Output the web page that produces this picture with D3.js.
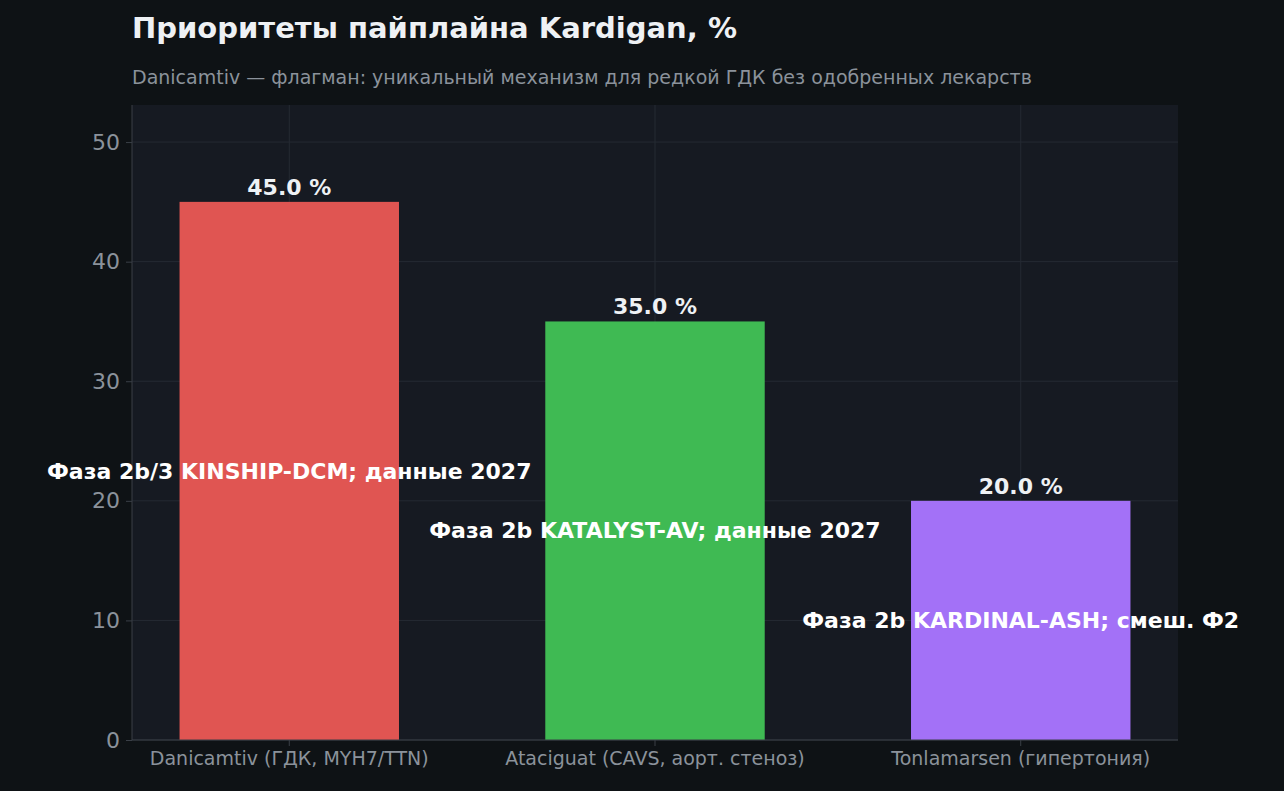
<!DOCTYPE html>
<html><head><meta charset="utf-8">
<script src="https://cdn.jsdelivr.net/npm/d3@7"></script>
<style>body{margin:0;background:#0e1215;}svg{display:block;font-family:"DejaVu Sans",sans-serif;}</style>
</head><body>
<script>
const categories = ["Danicamtiv (ГДК, MYH7/TTN)", "Ataciguat (CAVS, аорт. стеноз)", "Tonlamarsen (гипертония)"];
const values = [45.0, 35.0, 20.0];
const notes = ["Фаза 2b/3 KINSHIP-DCM; данные 2027", "Фаза 2b KATALYST-AV; данные 2027", "Фаза 2b KARDINAL-ASH; смеш. Ф2"];
const colors = ["#e05552", "#3fba53", "#a371f7"];
const yTicks = [0, 10, 20, 30, 40, 50];

const W = 1284, H = 791;
const m = {l: 132, r: 1178, t: 105, b: 740};
const svg = d3.select("body").append("svg").attr("width", W).attr("height", H);
svg.append("rect").attr("width", W).attr("height", H).attr("fill", "#0e1215");
svg.append("rect").attr("x", m.l).attr("y", m.t).attr("width", m.r - m.l).attr("height", m.b - m.t).attr("fill", "#161a22");

const x = d3.scaleBand().domain(categories).range([m.l, m.r]).paddingInner(0.4).paddingOuter(0.13);
const y = d3.scaleLinear().domain([0, 53.1]).range([m.b, m.t]);

// grid
svg.append("g").selectAll("line").data(yTicks).join("line")
  .attr("x1", m.l).attr("x2", m.r).attr("y1", d => y(d)).attr("y2", d => y(d))
  .attr("stroke", "#252a33").attr("stroke-width", 1);
svg.append("g").selectAll("line").data(categories).join("line")
  .attr("x1", d => x(d) + x.bandwidth() / 2).attr("x2", d => x(d) + x.bandwidth() / 2)
  .attr("y1", m.t).attr("y2", m.b).attr("stroke", "#252a33");

// bars
svg.append("g").selectAll("rect").data(values).join("rect")
  .attr("x", (d, i) => x(categories[i])).attr("width", x.bandwidth())
  .attr("y", d => y(d)).attr("height", d => y(0) - y(d)).attr("fill", (d, i) => colors[i]);

// axes
const ya = svg.append("g").attr("transform", `translate(${m.l},0)`)
  .call(d3.axisLeft(y).tickValues(yTicks).tickSize(6).tickPadding(6));
ya.selectAll("text").attr("fill", "#8b929b").attr("font-size", 22).attr("font-family", "DejaVu Sans");
ya.selectAll("line").attr("stroke", "#3a3f47");
ya.select(".domain").attr("stroke", "#3a3f47").attr("d", `M0,${m.b}V${m.t}`);
const xa = svg.append("g").attr("transform", `translate(0,${m.b})`)
  .call(d3.axisBottom(x).tickSize(6).tickPadding(6));
xa.selectAll("text").attr("fill", "#8b929b").attr("font-size", 19).attr("font-family", "DejaVu Sans");
xa.selectAll("line").attr("stroke", "#3a3f47");
xa.select(".domain").attr("stroke", "#3a3f47").attr("d", `M${m.l},0H${m.r}`);

// value labels
svg.append("g").selectAll("text").data(values).join("text")
  .attr("x", (d, i) => x(categories[i]) + x.bandwidth() / 2).attr("y", d => y(d) - 7)
  .attr("text-anchor", "middle").attr("fill", "#eef1f4").attr("font-size", 22).attr("font-weight", "bold")
  .text(d => d.toFixed(1) + " %");

// notes
svg.append("g").selectAll("text").data(values).join("text")
  .attr("x", (d, i) => x(categories[i]) + x.bandwidth() / 2).attr("y", d => y(d / 2))
  .attr("dy", "0.35em").attr("text-anchor", "middle").attr("fill", "#ffffff")
  .attr("font-size", 22).attr("font-weight", "bold").text((d, i) => notes[i]);

svg.append("text").attr("x", 132).attr("y", 38).attr("fill", "#eef1f4").attr("font-size", 29).attr("font-weight", "bold")
  .text("Приоритеты пайплайна Kardigan, %");
svg.append("text").attr("x", 132).attr("y", 84).attr("fill", "#8b929b").attr("font-size", 19)
  .text("Danicamtiv — флагман: уникальный механизм для редкой ГДК без одобренных лекарств");
</script>
</body></html>
